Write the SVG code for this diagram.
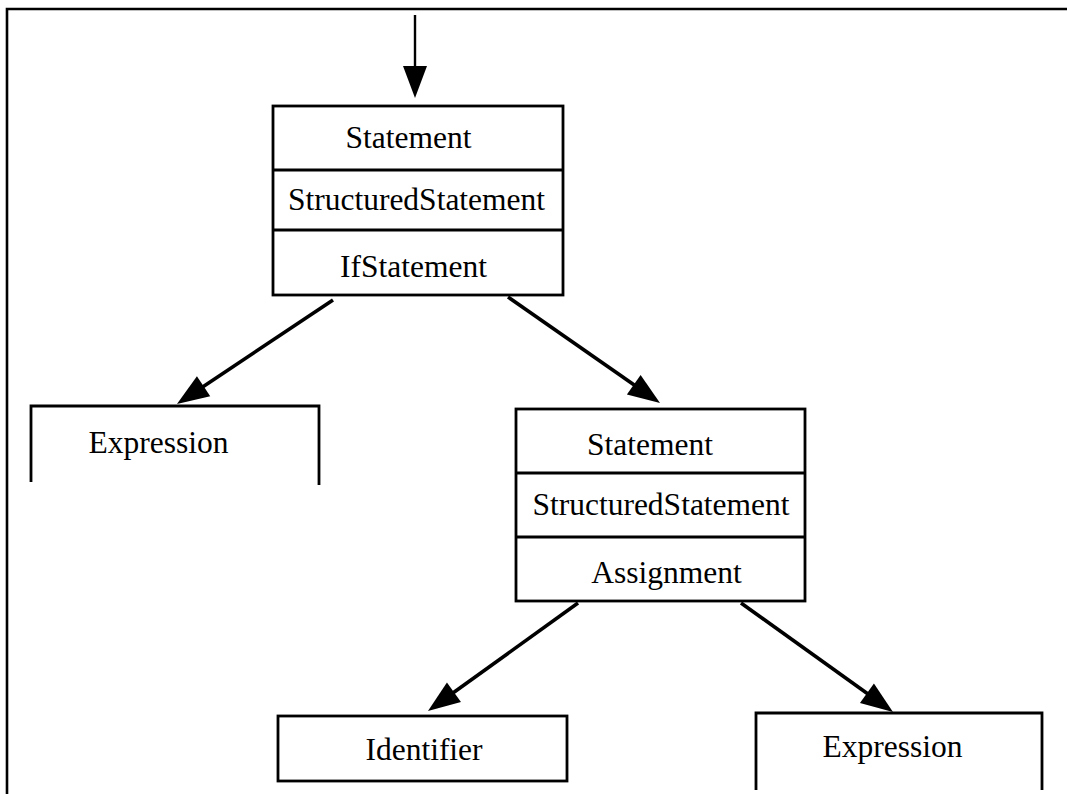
<svg xmlns="http://www.w3.org/2000/svg" width="1067" height="794" viewBox="0 0 1067 794">
<style>
.box{fill:none;stroke:#000;stroke-width:2.8}
.lbl{font-family:"Liberation Serif","Times New Roman",serif;font-size:31.5px;fill:#000;text-anchor:middle}
.edge{stroke:#000;stroke-width:3.6;fill:none;marker-end:url(#ah)}
.frame{fill:none;stroke:#000;stroke-width:2.6}
</style>
<defs>
<marker id="ah" markerUnits="userSpaceOnUse" markerWidth="40" markerHeight="30" refX="12" refY="12" orient="auto" overflow="visible">
<path d="M0,0 L32,12 L0,24 Z" fill="#000"/>
</marker>
</defs>
<rect width="1067" height="794" fill="#fff"/>
<path class="frame" d="M7,794 V9 H1067"/>
<g id="connectors">
<line class="edge" x1="415" y1="15" x2="415" y2="78" style="stroke-width:2.4"/>
<line class="edge" x1="333" y1="300" x2="193.6" y2="392.9"/>
<line class="edge" x1="508" y1="297" x2="643.6" y2="391.6"/>
<line class="edge" x1="578" y1="603" x2="444.2" y2="699.3"/>
<line class="edge" x1="741" y1="603" x2="876.7" y2="700.3"/>
</g>
<g id="node-if">
<rect class="box" x="273" y="106" width="290" height="189"/>
<line class="box" x1="273" y1="170" x2="563" y2="170"/>
<line class="box" x1="273" y1="230" x2="563" y2="230"/>
<text class="lbl" x="408.5" y="148">Statement</text>
<text class="lbl" x="416.5" y="210">StructuredStatement</text>
<text class="lbl" x="413.5" y="277">IfStatement</text>
</g>
<g id="node-expr1">
<path class="box" d="M31,482 V406 H319 V485"/>
<text class="lbl" x="158.5" y="453">Expression</text>
</g>
<g id="node-assign">
<rect class="box" x="516" y="409" width="289" height="192"/>
<line class="box" x1="516" y1="473" x2="805" y2="473"/>
<line class="box" x1="516" y1="537" x2="805" y2="537"/>
<text class="lbl" x="650" y="455">Statement</text>
<text class="lbl" x="661" y="515">StructuredStatement</text>
<text class="lbl" x="666.5" y="583">Assignment</text>
</g>
<g id="node-ident">
<rect class="box" x="278" y="716" width="289" height="65"/>
<text class="lbl" x="424" y="760">Identifier</text>
</g>
<g id="node-expr2">
<path class="box" d="M756,790 V713 H1042 V790"/>
<text class="lbl" x="892.5" y="757">Expression</text>
</g>
</svg>
